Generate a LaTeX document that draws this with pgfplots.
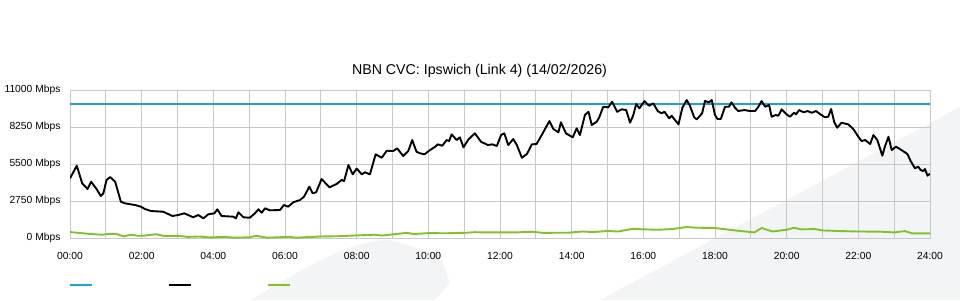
\documentclass[border=0pt]{standalone}
\usepackage{fontspec}
\setmainfont{Liberation Sans}
\usepackage{pgfplots}
\pgfplotsset{compat=1.18}
\definecolor{cvcblue}{RGB}{27,161,226}
\definecolor{cvcgreen}{RGB}{128,194,40}
\definecolor{gridgray}{RGB}{200,200,200}
\definecolor{wmgray}{RGB}{243,244,246}
\begin{document}
\begin{tikzpicture}
\useasboundingbox (0,0) rectangle (960pt,300pt);
% faint background watermark
\fill[wmgray] (250pt,0pt) .. controls (310pt,35pt) and (350pt,60pt) .. (390pt,60pt) -- (440pt,45pt) -- (450pt,17pt) -- (435pt,0pt) -- cycle;
\fill[wmgray] (600pt,0pt) -- (960pt,193pt) -- (960pt,0pt) -- cycle;
\node[font=\fontsize{14.2}{16}\selectfont] at (479.5pt,229.5pt) {NBN CVC: Ipswich (Link 4) (14/02/2026)};
\begin{axis}[
  at={(70pt,61.5pt)}, anchor=south west,
  scale only axis, width=860pt, height=148pt,
  xmin=0, xmax=24, ymin=0, ymax=11000,
  xtick={0,2,...,24},
  xticklabels={00:00,02:00,04:00,06:00,08:00,10:00,12:00,14:00,16:00,18:00,20:00,22:00,24:00},
  minor xtick={1,3,...,23},
  ytick={0,2750,5500,8250,11000},
  yticklabels={0 Mbps,2750 Mbps,5500 Mbps,8250 Mbps,11000 Mbps},
  scaled y ticks=false,
  grid=both,
  major grid style={gridgray, line width=0.9pt},
  minor grid style={gridgray, line width=0.9pt},
  axis line style={gridgray, line width=0.9pt},
  tick style={draw=none},
  ticklabel style={font=\fontsize{10.3}{12}\selectfont},
  xticklabel style={yshift=-10pt},
  yticklabel style={xshift=-6pt, yshift=1pt},
  legend columns=3,
  legend style={at={(0,0)}, anchor=west, xshift=-1pt, yshift=-46.5pt,
    draw=none, fill=none, inner sep=0pt, nodes={inner sep=0pt},
    column sep=0pt},
  legend image code/.code={\draw[#1] (0pt,0pt) -- (22pt,0pt);},
]
\addplot[cvcblue, line width=1.8pt] coordinates {(0,10000) (24,10000)};
\addlegendentry{\hspace*{75pt}}
\addplot[black, line width=1.9pt, line join=round] coordinates {
(0,4473) (0.19,5409) (0.34,4100) (0.49,3678) (0.59,4220) (0.74,3678) (0.86,3158) (0.93,3358)
(1.02,4347) (1.12,4570) (1.26,4220) (1.42,2735) (1.53,2615) (1.81,2490) (1.98,2363) (2.09,2192)
(2.26,2043) (2.60,1990) (2.86,1672) (3.02,1746) (3.19,1872) (3.44,1575) (3.58,1746) (3.72,1500)
(3.86,1798) (4.03,1872) (4.11,2170) (4.23,1672) (4.56,1620) (4.63,1500) (4.70,1947) (4.84,1575)
(5.02,1545) (5.16,1872) (5.26,2170) (5.35,1917) (5.44,2244) (5.58,2095) (5.86,2118) (5.97,2490)
(6.09,2363) (6.23,2690) (6.42,2861) (6.53,3106) (6.68,3849) (6.77,3358) (6.87,3433) (7.02,4421)
(7.24,3804) (7.44,4050) (7.58,4347) (7.65,4273) (7.77,5461) (7.89,4770) (8.00,5200) (8.14,4770)
(8.23,4918) (8.37,4770) (8.53,6256) (8.70,6003) (8.84,6523) (9.02,6501) (9.13,6702) (9.30,6130)
(9.44,6501) (9.55,7318) (9.67,6449) (9.77,6330) (9.89,6256) (10.05,6576) (10.19,6820) (10.26,6999)
(10.39,6895) (10.51,7318) (10.58,7244) (10.65,7742) (10.79,7318) (10.88,7519) (10.98,6776) (11.12,7370)
(11.30,7816) (11.47,7192) (11.66,6947) (11.79,6999) (11.91,6873) (12.03,7690) (12.12,7816) (12.23,6947)
(12.37,7393) (12.47,6947) (12.61,6003) (12.75,6278) (12.89,6999) (13.02,7021) (13.19,7816) (13.38,8730)
(13.49,8136) (13.63,7890) (13.70,8634) (13.84,7816) (14.03,7519) (14.14,8188) (14.23,7690) (14.37,9176)
(14.47,9421) (14.56,8433) (14.70,8679) (14.77,9006) (14.88,9793) (15.02,9748) (15.13,10164) (15.27,9421)
(15.40,9600) (15.52,9548) (15.63,8604) (15.72,9176) (15.80,9993) (15.89,9674) (16.03,10216) (16.16,9867)
(16.28,10045) (16.40,9473) (16.51,9302) (16.59,9421) (16.72,8931) (16.79,9124) (16.98,8485) (17.09,9718)
(17.21,10291) (17.30,9867) (17.42,9006) (17.49,8857) (17.64,9302) (17.72,10216) (17.83,10120) (17.91,10291)
(18.00,9176) (18.07,8879) (18.16,8879) (18.28,9793) (18.39,9793) (18.46,10120) (18.56,9718) (18.65,9473)
(18.82,9548) (18.98,9473) (19.12,9473) (19.21,9793) (19.30,10216) (19.40,9793) (19.51,9919) (19.58,9050)
(19.69,9176) (19.77,9124) (19.86,9600) (20.00,9228) (20.09,9050) (20.21,9350) (20.26,9228) (20.35,9548)
(20.47,9377) (20.58,9473) (20.70,9347) (20.82,9473) (20.93,9250) (21.07,9006) (21.16,9050) (21.24,9622)
(21.33,8634) (21.41,8233) (21.53,8604) (21.72,8485) (21.86,8136) (22.00,7564) (22.09,7244) (22.19,7318)
(22.33,7021) (22.42,7690) (22.53,7318) (22.67,6152) (22.74,6820) (22.84,7564) (22.93,6576) (23.05,6820)
(23.16,6650) (23.30,6405) (23.37,6278) (23.46,5758) (23.58,5216) (23.67,5335) (23.74,5090) (23.81,5015)
(23.86,5164) (23.93,4666) (24.00,4815)
};
\addlegendentry{\hspace*{75pt}}
\addplot[cvcgreen, line width=1.9pt, line join=round] coordinates {
(0,480) (0.3,400) (0.6,330) (0.9,280) (1.1,350) (1.3,330) (1.5,160) (1.7,280) (1.9,200) (2.1,220)
(2.4,320) (2.6,200) (3.0,200) (3.3,120) (3.6,150) (3.9,80) (4.3,120) (4.6,60) (5.0,90) (5.2,200)
(5.5,60) (5.9,100) (6.1,130) (6.3,60) (6.6,100) (7.0,150) (7.5,170) (8.0,230) (8.5,280) (8.7,220)
(9.1,330) (9.4,420) (9.6,330) (10.0,400) (10.5,390) (11.0,420) (11.3,470) (11.6,450) (12.0,450) (12.5,460)
(12.9,500) (13.2,420) (13.9,430) (14.3,520) (14.6,480) (15.0,560) (15.3,520) (15.7,720) (16.0,680) (16.4,650)
(16.8,700) (17.2,850) (17.5,800) (18.0,780) (18.3,680) (18.7,560) (19.1,450) (19.3,780) (19.6,520) (20.0,650)
(20.2,800) (20.4,680) (20.8,700) (21.0,600) (21.4,560) (22.0,520) (22.6,510) (23.0,450) (23.3,550) (23.5,380)
(24.0,380)
};
\addlegendentry{\hspace*{75pt}}
\end{axis}
\end{tikzpicture}
\end{document}
